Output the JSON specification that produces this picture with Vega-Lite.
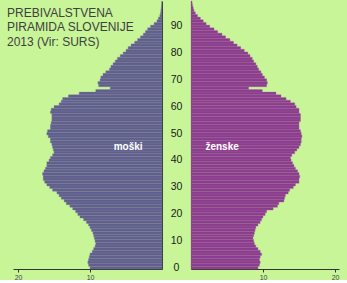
{
  "$schema": "https://vega.github.io/schema/vega-lite/v6.json",
  "background": "#c8f598",
  "padding": {"left": 7, "top": 0, "right": 10, "bottom": 0},
  "spacing": 0,
  "config": {
    "view": {"stroke": null},
    "font": "Liberation Sans",
    "axis": {"grid": false, "domainColor": "#333333", "tickColor": "#333333", "labelColor": "#444444", "labelFont": "Liberation Sans"}
  },
  "datasets": {
    "moski": [
      {"age":0,"pop":10.0},{"age":1,"pop":10.2},{"age":2,"pop":10.3},{"age":3,"pop":10.2},{"age":4,"pop":10.1},
      {"age":5,"pop":10.0},{"age":6,"pop":9.7},{"age":7,"pop":9.5},{"age":8,"pop":9.3},{"age":9,"pop":9.2},
      {"age":10,"pop":9.3},{"age":11,"pop":9.4},{"age":12,"pop":9.5},{"age":13,"pop":9.6},{"age":14,"pop":9.8},
      {"age":15,"pop":10.0},{"age":16,"pop":10.2},{"age":17,"pop":10.5},{"age":18,"pop":10.9},{"age":19,"pop":11.4},
      {"age":20,"pop":11.7},{"age":21,"pop":12.0},{"age":22,"pop":12.4},{"age":23,"pop":12.8},{"age":24,"pop":13.3},
      {"age":25,"pop":13.6},{"age":26,"pop":14.0},{"age":27,"pop":14.3},{"age":28,"pop":14.6},{"age":29,"pop":15.2},
      {"age":30,"pop":15.6},{"age":31,"pop":16.0},{"age":32,"pop":16.3},{"age":33,"pop":16.5},{"age":34,"pop":16.5},
      {"age":35,"pop":16.6},{"age":36,"pop":16.4},{"age":37,"pop":16.2},{"age":38,"pop":16.0},{"age":39,"pop":16.0},
      {"age":40,"pop":15.7},{"age":41,"pop":15.5},{"age":42,"pop":15.2},{"age":43,"pop":15.0},{"age":44,"pop":15.1},
      {"age":45,"pop":15.2},{"age":46,"pop":15.3},{"age":47,"pop":15.5},{"age":48,"pop":15.5},{"age":49,"pop":15.8},
      {"age":50,"pop":16.0},{"age":51,"pop":15.9},{"age":52,"pop":15.5},{"age":53,"pop":15.5},{"age":54,"pop":15.4},
      {"age":55,"pop":15.3},{"age":56,"pop":15.3},{"age":57,"pop":15.3},{"age":58,"pop":15.5},{"age":59,"pop":15.4},
      {"age":60,"pop":15.0},{"age":61,"pop":14.3},{"age":62,"pop":14.0},{"age":63,"pop":13.8},{"age":64,"pop":13.0},
      {"age":65,"pop":11.5},{"age":66,"pop":9.2},{"age":67,"pop":7.2},{"age":68,"pop":8.8},{"age":69,"pop":8.9},
      {"age":70,"pop":8.6},{"age":71,"pop":8.5},{"age":72,"pop":8.2},{"age":73,"pop":7.8},{"age":74,"pop":7.3},
      {"age":75,"pop":7.1},{"age":76,"pop":6.8},{"age":77,"pop":6.5},{"age":78,"pop":6.2},{"age":79,"pop":5.8},
      {"age":80,"pop":5.4},{"age":81,"pop":5.0},{"age":82,"pop":4.7},{"age":83,"pop":4.3},{"age":84,"pop":3.8},
      {"age":85,"pop":3.4},{"age":86,"pop":3.0},{"age":87,"pop":2.6},{"age":88,"pop":2.3},{"age":89,"pop":2.0},
      {"age":90,"pop":1.6},{"age":91,"pop":1.1},{"age":92,"pop":0.7},{"age":93,"pop":0.5},{"age":94,"pop":0.3},
      {"age":95,"pop":0.2},{"age":96,"pop":0.15},{"age":97,"pop":0.1},{"age":98,"pop":0.07},{"age":99,"pop":0.05}
    ],
    "zenske": [
      {"age":0,"pop":9.3},{"age":1,"pop":9.5},{"age":2,"pop":9.6},{"age":3,"pop":9.5},{"age":4,"pop":9.6},
      {"age":5,"pop":9.8},{"age":6,"pop":9.6},{"age":7,"pop":9.3},{"age":8,"pop":9.0},{"age":9,"pop":8.8},
      {"age":10,"pop":8.7},{"age":11,"pop":8.6},{"age":12,"pop":8.7},{"age":13,"pop":8.8},{"age":14,"pop":8.9},
      {"age":15,"pop":9.0},{"age":16,"pop":9.3},{"age":17,"pop":9.6},{"age":18,"pop":9.8},{"age":19,"pop":10.0},
      {"age":20,"pop":10.3},{"age":21,"pop":10.5},{"age":22,"pop":11.4},{"age":23,"pop":12.0},{"age":24,"pop":12.2},
      {"age":25,"pop":12.9},{"age":26,"pop":13.0},{"age":27,"pop":13.1},{"age":28,"pop":13.5},{"age":29,"pop":13.7},
      {"age":30,"pop":14.2},{"age":31,"pop":14.5},{"age":32,"pop":15.0},{"age":33,"pop":15.0},{"age":34,"pop":15.1},
      {"age":35,"pop":15.0},{"age":36,"pop":14.8},{"age":37,"pop":14.5},{"age":38,"pop":14.3},{"age":39,"pop":14.1},
      {"age":40,"pop":13.9},{"age":41,"pop":13.8},{"age":42,"pop":14.0},{"age":43,"pop":14.4},{"age":44,"pop":14.7},
      {"age":45,"pop":15.0},{"age":46,"pop":15.2},{"age":47,"pop":15.3},{"age":48,"pop":15.3},{"age":49,"pop":15.4},
      {"age":50,"pop":15.3},{"age":51,"pop":15.2},{"age":52,"pop":15.0},{"age":53,"pop":15.0},{"age":54,"pop":15.0},
      {"age":55,"pop":15.2},{"age":56,"pop":15.2},{"age":57,"pop":15.2},{"age":58,"pop":15.0},{"age":59,"pop":15.0},
      {"age":60,"pop":14.6},{"age":61,"pop":14.4},{"age":62,"pop":13.8},{"age":63,"pop":13.2},{"age":64,"pop":12.5},
      {"age":65,"pop":11.8},{"age":66,"pop":9.9},{"age":67,"pop":8.0},{"age":68,"pop":10.5},{"age":69,"pop":10.6},
      {"age":70,"pop":10.5},{"age":71,"pop":10.2},{"age":72,"pop":9.9},{"age":73,"pop":9.7},{"age":74,"pop":9.4},
      {"age":75,"pop":9.2},{"age":76,"pop":9.0},{"age":77,"pop":8.7},{"age":78,"pop":8.5},{"age":79,"pop":8.2},
      {"age":80,"pop":7.9},{"age":81,"pop":7.4},{"age":82,"pop":6.9},{"age":83,"pop":6.4},{"age":84,"pop":5.9},
      {"age":85,"pop":5.4},{"age":86,"pop":4.8},{"age":87,"pop":4.3},{"age":88,"pop":3.7},{"age":89,"pop":3.2},
      {"age":90,"pop":2.6},{"age":91,"pop":2.1},{"age":92,"pop":1.7},{"age":93,"pop":1.3},{"age":94,"pop":0.9},
      {"age":95,"pop":0.6},{"age":96,"pop":0.4},{"age":97,"pop":0.3},{"age":98,"pop":0.2},{"age":99,"pop":0.15}
    ],
    "starost": [
      {"age":0},{"age":10},{"age":20},{"age":30},{"age":40},{"age":50},{"age":60},{"age":70},{"age":80},{"age":90}
    ]
  },
  "hconcat": [
    {
      "width": 149,
      "height": 268,
      "title": {
        "text": ["PREBIVALSTVENA", "PIRAMIDA SLOVENIJE", "2013 (Vir: SURS)"],
        "anchor": "start",
        "frame": "group",
        "orient": "top",
        "baseline": "top",
        "offset": -48,
        "dx": -6,
        "fontSize": 12,
        "fontWeight": "normal",
        "font": "Liberation Sans",
        "color": "#404040",
        "lineHeight": 14.5
      },
      "layer": [
        {
          "data": {"name": "moski"},
          "mark": {"type": "bar", "color": "#605f8c", "stroke": "#7d7ca6", "strokeWidth": 0.35},
          "encoding": {
            "y": {"field": "age", "type": "ordinal", "scale": {"reverse": true, "paddingInner": 0, "paddingOuter": 0},
                  "axis": {"orient": "right", "labels": false, "ticks": false, "title": null, "domainColor": "#333333"}},
            "x": {"field": "pop", "type": "quantitative", "scale": {"domain": [0, 20.7], "reverse": true, "nice": false, "zero": true},
                  "axis": {"values": [10, 20], "title": null, "tickSize": 3, "labelFontSize": 7, "labelPadding": 1}}
          }
        },
        {
          "data": {"values": [{"t": "moški"}]},
          "mark": {"type": "text", "align": "right", "baseline": "middle", "fontWeight": "bold", "fontSize": 10, "color": "white", "font": "Liberation Sans"},
          "encoding": {
            "text": {"field": "t"},
            "x": {"datum": 2.7, "type": "quantitative"},
            "y": {"datum": 45, "type": "ordinal"}
          }
        }
      ]
    },
    {
      "width": 27,
      "height": 268,
      "data": {"name": "starost"},
      "mark": {"type": "text", "align": "center", "baseline": "middle", "fontSize": 10.5, "color": "#1a1a1a", "font": "Liberation Sans"},
      "encoding": {
        "y": {"field": "age", "type": "quantitative", "scale": {"domain": [-0.5, 99.5], "nice": false, "zero": false}, "axis": null},
        "text": {"field": "age"}
      }
    },
    {
      "width": 148,
      "height": 268,
      "layer": [
        {
          "data": {"name": "zenske"},
          "mark": {"type": "bar", "color": "#8c3c8c", "stroke": "#a060a6", "strokeWidth": 0.35},
          "encoding": {
            "y": {"field": "age", "type": "ordinal", "scale": {"reverse": true, "paddingInner": 0, "paddingOuter": 0},
                  "axis": {"orient": "left", "labels": false, "ticks": false, "title": null, "domainColor": "#333333"}},
            "x": {"field": "pop", "type": "quantitative", "scale": {"domain": [0, 20.55], "nice": false, "zero": true},
                  "axis": {"values": [10, 20], "title": null, "tickSize": 3, "labelFontSize": 7, "labelPadding": 1}}
          }
        },
        {
          "data": {"values": [{"t": "ženske"}]},
          "mark": {"type": "text", "align": "left", "baseline": "middle", "fontWeight": "bold", "fontSize": 10, "color": "white", "font": "Liberation Sans"},
          "encoding": {
            "text": {"field": "t"},
            "x": {"datum": 2.0, "type": "quantitative"},
            "y": {"datum": 45, "type": "ordinal"}
          }
        }
      ]
    }
  ]
}
